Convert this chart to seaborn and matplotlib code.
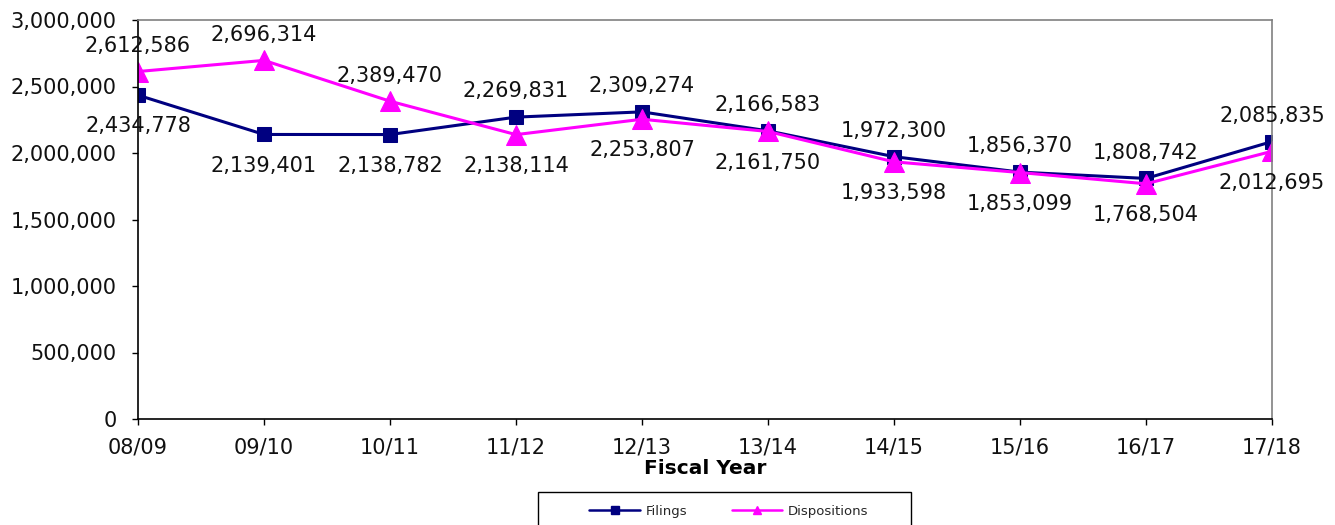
import matplotlib
matplotlib.use("Agg")
import matplotlib.pyplot as plt
import seaborn as sns
import pandas as pd
from matplotlib.patches import Rectangle
from matplotlib.lines import Line2D
from matplotlib.ticker import FuncFormatter

years = ["08/09", "09/10", "10/11", "11/12", "12/13", "13/14", "14/15", "15/16", "16/17", "17/18"]
filings = [2434778, 2139401, 2138782, 2269831, 2309274, 2166583, 1972300, 1856370, 1808742, 2085835]
dispositions = [2612586, 2696314, 2389470, 2138114, 2253807, 2161750, 1933598, 1853099, 1768504, 2012695]
# label above (True) or below (False) the point
filings_above = [False, False, False, True, True, True, True, True, True, True]
disp_above = [True, True, True, False, False, False, False, False, False, False]

sns.set_theme(style="ticks")
plt.rcParams['font.family'] = ['DejaVu Sans']

fig = plt.figure(figsize=(13.35, 5.25), dpi=100)
ax = fig.add_axes([138/1335, 1-419/525, (1272-138)/1335, (419-20)/525])

df_f = pd.DataFrame({"x": list(range(len(years))), "y": filings})
df_d = pd.DataFrame({"x": list(range(len(years))), "y": dispositions})

navy = "#000080"
magenta = "#FF00FF"

sns.lineplot(data=df_f, x="x", y="y", ax=ax, color=navy, linewidth=2.2,
             marker="s", markersize=10, markeredgecolor=navy, legend=False)
sns.lineplot(data=df_d, x="x", y="y", ax=ax, color=magenta, linewidth=2.2,
             marker="^", markersize=15, markeredgecolor=magenta, legend=False)

fs = 15
for i, (v, up) in enumerate(zip(filings, filings_above)):
    ax.annotate(f"{v:,}", (i, v), xytext=(0, 18.5 if up else -22.5), textcoords="offset points",
                ha="center", va="center", fontsize=fs, color="#111111", annotation_clip=False)
for i, (v, up) in enumerate(zip(dispositions, disp_above)):
    ax.annotate(f"{v:,}", (i, v), xytext=(0, 18.5 if up else -22.5), textcoords="offset points",
                ha="center", va="center", fontsize=fs, color="#111111", annotation_clip=False)

ax.set_xlim(0, len(years) - 1)
ax.set_ylim(0, 3000000)
ax.set_xticks(range(len(years)))
ax.set_xticklabels(years)
ax.set_yticks(range(0, 3000001, 500000))
ax.yaxis.set_major_formatter(FuncFormatter(lambda v, p: f"{int(v):,}"))
ax.tick_params(axis="both", which="major", direction="out", length=4.5, width=1,
               color="black", labelsize=fs, labelcolor="#111111", left=True, bottom=True)
ax.tick_params(axis="y", pad=11)
ax.tick_params(axis="x", pad=9)
ax.set_xlabel("Fiscal Year", fontsize=14.5, fontweight="bold", labelpad=1, color="black")
ax.set_ylabel("")
ax.grid(False)

for s in ["left", "bottom"]:
    ax.spines[s].set_visible(True)
    ax.spines[s].set_color("black")
    ax.spines[s].set_linewidth(1.2)
for s in ["top", "right"]:
    ax.spines[s].set_visible(True)
    ax.spines[s].set_color("#808080")
    ax.spines[s].set_linewidth(1.2)

# legend frame
rect = Rectangle((538/1335, -0.05), 373/1335, 0.05 + (1-492/525), transform=fig.transFigure,
                 fill=False, edgecolor="black", linewidth=1)
fig.patches.append(rect)

handles = [
    Line2D([], [], color=navy, linewidth=1.8, marker="s", markersize=6, markeredgecolor=navy),
    Line2D([], [], color=magenta, linewidth=1.8, marker="^", markersize=6, markeredgecolor=magenta),
]
labels = ["Filings", "Dispositions"]
fig.legend(handles, labels, loc="center", bbox_to_anchor=(729/1335, 1-511/525),
           ncol=2, frameon=False, fontsize=9.5, handlelength=3.8, handletextpad=0.45,
           columnspacing=3.4)

fig.savefig("out.png", dpi=100)
